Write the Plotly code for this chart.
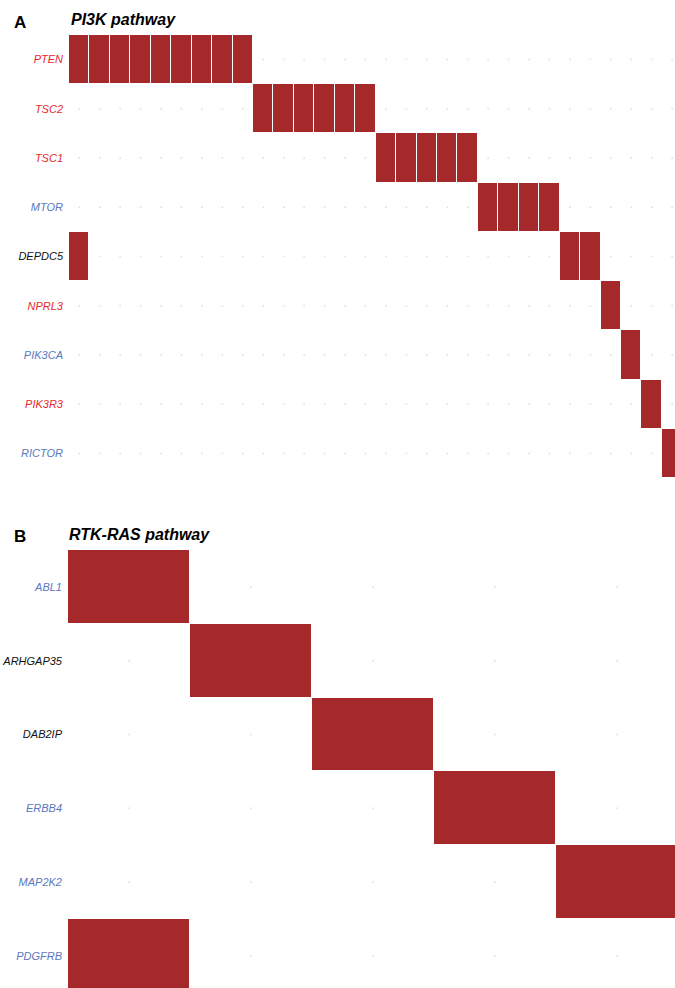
import plotly.graph_objects as go

# ---- Panel A: PI3K pathway ----
genes_a = ["PTEN", "TSC2", "TSC1", "MTOR", "DEPDC5", "NPRL3", "PIK3CA", "PIK3R3", "RICTOR"]
colors_a = ["#e8282b", "#e8282b", "#e8282b", "#5b77c0", "#111111", "#e8282b", "#5b77c0", "#e8282b", "#5b77c0"]
n_samples_a = 30
altered_a = {
    "PTEN": [0, 1, 2, 3, 4, 5, 6, 7, 8],
    "TSC2": [9, 10, 11, 12, 13, 14],
    "TSC1": [15, 16, 17, 18, 19],
    "MTOR": [20, 21, 22, 23],
    "DEPDC5": [0, 24, 25],
    "NPRL3": [26],
    "PIK3CA": [27],
    "PIK3R3": [28],
    "RICTOR": [29],
}

# ---- Panel B: RTK-RAS pathway ----
genes_b = ["ABL1", "ARHGAP35", "DAB2IP", "ERBB4", "MAP2K2", "PDGFRB"]
colors_b = ["#5b77c0", "#111111", "#111111", "#5b77c0", "#5b77c0", "#5b77c0"]
n_samples_b = 5
altered_b = {
    "ABL1": [0],
    "ARHGAP35": [1],
    "DAB2IP": [2],
    "ERBB4": [3],
    "MAP2K2": [4],
    "PDGFRB": [0],
}

FILL = "#a5292a"
W, H = 675, 988


def build(genes, n, altered):
    z = []
    ex, ey = [], []
    for g in genes:
        row = []
        for s in range(n):
            if s in altered[g]:
                row.append(1)
            else:
                row.append(None)
                ex.append(s)
                ey.append(g)
        z.append(row)
    return z, ex, ey


fig = go.Figure()

za, exa, eya = build(genes_a, n_samples_a, altered_a)
zb, exb, eyb = build(genes_b, n_samples_b, altered_b)

fig.add_trace(go.Scatter(x=exa, y=eya, mode="markers", marker=dict(size=2, color="#e4e4e4"),
                         xaxis="x", yaxis="y", hoverinfo="skip", showlegend=False))
fig.add_trace(go.Heatmap(z=za, x=list(range(n_samples_a)), y=genes_a,
                         colorscale=[[0, FILL], [1, FILL]], showscale=False,
                         xgap=1, ygap=1, xaxis="x", yaxis="y", hoverongaps=False))

fig.add_trace(go.Scatter(x=exb, y=eyb, mode="markers", marker=dict(size=2, color="#e4e4e4"),
                         xaxis="x2", yaxis="y2", hoverinfo="skip", showlegend=False))
fig.add_trace(go.Heatmap(z=zb, x=list(range(n_samples_b)), y=genes_b,
                         colorscale=[[0, FILL], [1, FILL]], showscale=False,
                         xgap=1, ygap=1, xaxis="x2", yaxis="y2", hoverongaps=False))

def ticktexts(genes, cols):
    return [f"<i><span style='color:{c}'>{g}</span></i>" for g, c in zip(genes, cols)]

common_y = dict(showgrid=False, zeroline=False, showline=False, ticks="",
                tickfont=dict(family="Liberation Sans, Arial", size=11), ticklabelstandoff=5,
                autorange=False)
common_x = dict(showgrid=False, zeroline=False, showline=False, showticklabels=False, ticks="",
                autorange=False)

fig.update_layout(
    width=W, height=H,
    margin=dict(l=0, r=0, t=0, b=0),
    paper_bgcolor="white", plot_bgcolor="white",
    xaxis=dict(domain=[69 / W, 1], range=[-0.5, 29.14], anchor="y", **common_x),
    yaxis=dict(domain=[1 - 478 / H, 1 - 35 / H], range=[8.5, -0.5], anchor="x",
               tickmode="array", tickvals=genes_a, ticktext=ticktexts(genes_a, colors_a),
               type="category", **common_y),
    xaxis2=dict(domain=[68 / W, 1], range=[-0.5, 4.475], anchor="y2", **common_x),
    yaxis2=dict(domain=[0, 1 - 550 / H], range=[5.435, -0.5], anchor="x2",
                tickmode="array", tickvals=genes_b, ticktext=ticktexts(genes_b, colors_b),
                type="category", **common_y),
    annotations=[
        dict(text="<b>A</b>", x=12 / W, y=1 - 23 / H, xref="paper", yref="paper",
             xanchor="left", yanchor="middle", showarrow=False,
             font=dict(family="Liberation Sans, Arial", size=17, color="black")),
        dict(text="<b><i>PI3K pathway</i></b>", x=69 / W, y=1 - 19 / H, xref="paper", yref="paper",
             xanchor="left", yanchor="middle", showarrow=False,
             font=dict(family="Liberation Sans, Arial", size=16, color="black")),
        dict(text="<b>B</b>", x=12 / W, y=1 - 536 / H, xref="paper", yref="paper",
             xanchor="left", yanchor="middle", showarrow=False,
             font=dict(family="Liberation Sans, Arial", size=17, color="black")),
        dict(text="<b><i>RTK-RAS pathway</i></b>", x=67 / W, y=1 - 534 / H, xref="paper", yref="paper",
             xanchor="left", yanchor="middle", showarrow=False,
             font=dict(family="Liberation Sans, Arial", size=16, color="black")),
    ],
)

fig.write_html("out.html")
